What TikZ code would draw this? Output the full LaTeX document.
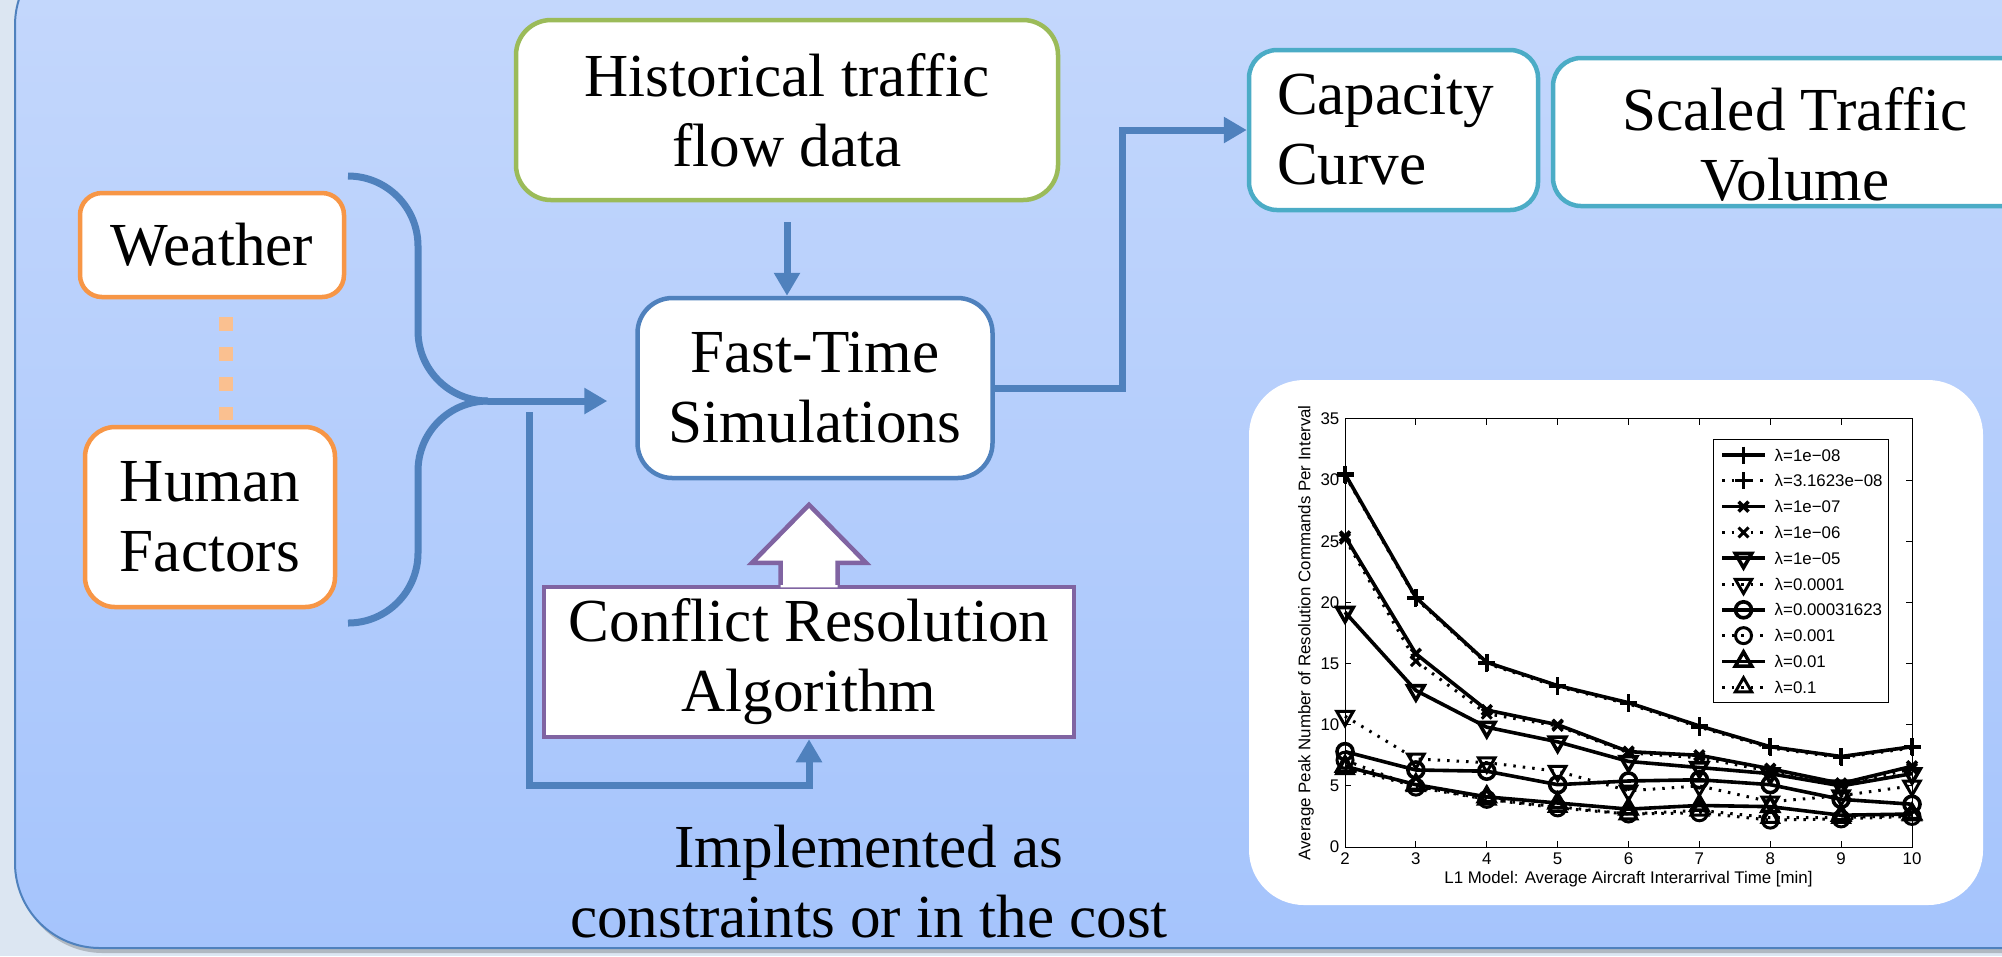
\documentclass[tikz,border=0pt]{standalone}
\usepackage{fontspec}
\setmainfont{Liberation Serif}
\newfontfamily\plotfont{Liberation Sans}
\usetikzlibrary{arrows.meta,plotmarks}

\definecolor{outerbg}{RGB}{220,230,242}
\definecolor{paneltop}{RGB}{197,216,252}
\definecolor{panelbot}{RGB}{165,196,252}
\definecolor{flowblue}{RGB}{79,129,189}
\definecolor{wxorange}{RGB}{247,150,70}
\definecolor{dotorange}{RGB}{250,192,144}
\definecolor{histgreen}{RGB}{155,187,89}
\definecolor{capteal}{RGB}{75,172,198}
\definecolor{crpurple}{RGB}{128,100,162}

\tikzset{
  box/.style={draw, fill=white, line width=0.45mm, inner sep=0pt, align=center,
    font=\fontsize{17.4}{19.9}\selectfont},
  flow/.style={draw=flowblue, line width=0.7mm},
  flowarrow/.style={-{Triangle[length=2.3mm,width=2.5mm]}},
  ticklab/.style={font=\plotfont\fontsize{4.8}{5.7}\selectfont, inner sep=0.5mm},
  solidser/.style={line width=0.36mm, mark options={solid}},
  dotser/.style={line width=0.3mm, dash pattern=on 0.25mm off 0.7mm, mark options={solid}},
  ser1/.style={solidser, mark=+, mark size=0.85mm},
  ser2/.style={dotser, mark=+, mark size=0.85mm},
  ser3/.style={solidser, mark=x, mark size=0.7mm},
  ser4/.style={dotser, mark=x, mark size=0.7mm},
  ser5/.style={solidser, mark=triangle, mark size=0.95mm, mark options={solid,rotate=180}},
  ser6/.style={dotser, mark=triangle, mark size=0.95mm, mark options={solid,rotate=180}},
  ser7/.style={solidser, mark=o, mark size=0.8mm},
  ser8/.style={dotser, mark=o, mark size=0.8mm},
  ser9/.style={solidser, mark=triangle, mark size=0.95mm},
  ser10/.style={dotser, mark=triangle, mark size=0.95mm}
}

\begin{document}
\begin{tikzpicture}[x=0.1mm,y=-0.1mm]
\useasboundingbox (0,0) rectangle (2002,956);
% background panel
\fill[outerbg] (0,0) rectangle (2002,956);
\fill[black, opacity=0.2, rounded corners=8.5mm] (18,-60) rectangle (2100,953);
\shadedraw[top color=paneltop, bottom color=panelbot, draw=flowblue, line width=0.2mm, rounded corners=8.5mm] (15,-60) rectangle (2100,948);

% boxes
\node[box, draw=wxorange, rounded corners=2.2mm, minimum width=26.4mm, minimum height=10.4mm] (weather) at (212,245) {Weather};
\node[box, draw=wxorange, rounded corners=3mm, minimum width=25mm, minimum height=18mm] (human) at (210,517) {Human\\Factors};
\node[box, draw=histgreen, rounded corners=3.5mm, minimum width=54.2mm, minimum height=18mm] (hist) at (787,110) {Historical traffic\\flow data};
\node[box, draw=flowblue, rounded corners=3.5mm, minimum width=35.5mm, minimum height=18mm] (fast) at (815,388) {Fast-Time\\Simulations};
\node[box, draw=capteal, rounded corners=2.8mm, minimum width=28.9mm, minimum height=16mm, text width=23.3mm, align=left] (capacity) at (1393.5,130) {Capacity\\Curve};
\node[box, draw=capteal, rounded corners=2.8mm, minimum width=48.4mm, minimum height=14.8mm] (scaled) at (1795,132) {};
\node[box, draw=none, fill=none] (scaledtext) at ([yshift=-1.25mm]scaled.center) {Scaled Traffic\\Volume};
\node[box, draw=crpurple, minimum width=53mm, minimum height=15mm] (conflict) at (809,662) {Conflict Resolution\\Algorithm};
\node[box, draw=none, fill=none] (impl) at (869,882) {Implemented as\\constraints or in the cost};

% dotted link
\draw[dotorange, line width=1.4mm, dash pattern=on 1.4mm off 1.6mm, shorten <=1.8mm, shorten >=0.5mm]
  ([xshift=1.4mm]weather.south) -- ([xshift=1.4mm]weather.south |- human.north);

% brace and arrows
\coordinate (join) at (488,401);
\coordinate (bracetop) at (348,176);
\coordinate (bracebot) at (348,623);
\coordinate (fbtop) at (529,412);
\draw[flow, rounded corners=7mm] (bracetop) -| ([xshift=-7mm]join) -- (join);
\draw[flow, rounded corners=7mm] (join) -- ([xshift=-7mm]join) |- (bracebot);
\draw[flow, flowarrow, shorten >=2.8mm] (join) -- (join -| fast.west);
\draw[flow, flowarrow] (fbtop) |- ([yshift=-4.6mm]conflict.south) -- (conflict.south);
\draw[flow, flowarrow, shorten <=2mm] (hist.south) -- (hist.south |- fast.north);
\draw[flow, flowarrow] (fast.east) -- ++(12.8mm,0) |- (capacity.west);

% hollow arrow
\fill[white] ([xshift=-2.85mm,yshift=-0.25mm]conflict.north) -- ++(0,2.45mm) -- ++(-2.85mm,0)
  -- ([yshift=8mm]conflict.north) -- ([xshift=5.7mm,yshift=2.2mm]conflict.north)
  -- ([xshift=2.85mm,yshift=2.2mm]conflict.north) -- ([xshift=2.85mm,yshift=-0.25mm]conflict.north) -- cycle;
\draw[crpurple, line width=0.45mm] ([xshift=-2.85mm]conflict.north) -- ++(0,2.2mm) -- ++(-2.85mm,0)
  -- ([yshift=8mm]conflict.north) -- ([xshift=5.7mm,yshift=2.2mm]conflict.north) -- ++(-2.85mm,0) -- ++(0,-2.2mm);

% plot
\fill[white, rounded corners=5.5mm] (1249,380) rectangle (1983,905);
\begin{scope}[shift={(1203.25,847)}, x=7.0875mm, y=1.223mm]
\draw[line width=0.1mm] (2,0) rectangle (10,35);
\foreach \t in {2,...,10} {
  \draw[line width=0.1mm] (\t,0) -- ++(0,0.6mm) (\t,35) -- ++(0,-0.6mm);
  \node[ticklab, anchor=north] (xtick\t) at (\t,0) {\t};
}
\foreach \t in {0,5,...,35} {
  \draw[line width=0.1mm] (2,\t) -- ++(0.6mm,0) (10,\t) -- ++(-0.6mm,0);
  \node[ticklab, anchor=east] (ytick\t) at (2,\t) {\t};
}
\node[ticklab, rotate=90] (ylab) at (1.45,17.5) {Average Peak Number of Resolution Commands Per Interval};
\node[ticklab] (xlab) at (6,-2.62) {L1 Model: Average Aircraft Interarrival Time [min]};
\draw[ser10] plot coordinates {(2,6.4) (3,5.0) (4,3.9) (5,3.3) (6,2.7) (7,3.0) (8,2.4) (9,2.4) (10,2.6)};
\draw[ser9] plot coordinates {(2,6.6) (3,5.1) (4,4.1) (5,3.6) (6,3.1) (7,3.4) (8,3.3) (9,2.6) (10,2.7)};
\draw[ser8] plot coordinates {(2,7.1) (3,4.9) (4,3.9) (5,3.2) (6,2.7) (7,2.8) (8,2.2) (9,2.3) (10,2.5)};
\draw[ser7] plot coordinates {(2,7.8) (3,6.3) (4,6.2) (5,5.1) (6,5.4) (7,5.5) (8,5.1) (9,3.9) (10,3.5)};
\draw[ser6] plot coordinates {(2,10.7) (3,7.2) (4,6.9) (5,6.2) (6,4.6) (7,5.0) (8,3.7) (9,4.2) (10,5.0)};
\draw[ser5] plot coordinates {(2,19.2) (3,12.8) (4,9.8) (5,8.6) (6,7.0) (7,6.5) (8,6.0) (9,5.0) (10,6.0)};
\draw[ser4] plot coordinates {(2,25.2) (3,15.2) (4,10.9) (5,9.9) (6,7.7) (7,7.3) (8,6.2) (9,5.0) (10,6.4)};
\draw[ser3] plot coordinates {(2,25.4) (3,15.8) (4,11.2) (5,10.0) (6,7.8) (7,7.5) (8,6.4) (9,5.2) (10,6.6)};
\draw[ser2] plot coordinates {(2,30.4) (3,20.3) (4,15.0) (5,13.1) (6,11.7) (7,9.8) (8,8.1) (9,7.3) (10,8.1)};
\draw[ser1] plot coordinates {(2,30.5) (3,20.4) (4,15.1) (5,13.2) (6,11.8) (7,9.9) (8,8.2) (9,7.4) (10,8.2)};
\end{scope}

% legend
\draw[fill=white, line width=0.1mm] (1713,439) rectangle (1888,702);
\foreach \lab [count=\i] in {λ=1e−08, λ=3.1623e−08, λ=1e−07, λ=1e−06, λ=1e−05,
    λ=0.0001, λ=0.00031623, λ=0.001, λ=0.01, λ=0.1} {
  \pgfmathsetmacro\ry{455+25.8*(\i-1)}
  \draw[ser\i, mark=none] (1722,\ry) -- (1765,\ry);
  \draw[ser\i] plot coordinates {(1743.5,\ry)};
  \node[ticklab, anchor=west] (leg\i) at (1769,\ry) {\lab};
}
\end{tikzpicture}
\end{document}
